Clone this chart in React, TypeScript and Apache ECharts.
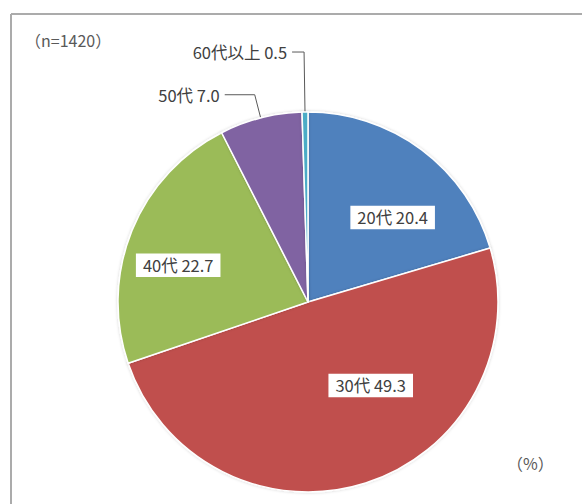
import React, { useEffect, useRef } from 'react';
import * as echarts from 'echarts';

// Age-group breakdown of respondents (%)
const categories = ['20代', '30代', '40代', '50代', '60代以上'];
const shares = [20.4, 49.3, 22.7, 7.0, 0.5];
const sliceColors = ['#4F81BD', '#C0504D', '#9BBB59', '#8064A2', '#4BACC6'];
const sampleNote = '（n=1420）';
const unitNote = '（%）';

// Which slices carry their label inside the wedge, and how far each inside label is nudged
const insideLabel = [true, true, true, false, false];
const insideLabelShift = [
  [26, -6],
  [33, -10],
  [-39, 0],
];
// Leader line lengths for the outside labels [radial, horizontal]
const leaderLengths: Record<number, [number, number]> = {
  3: [24, 30],
  4: [60, 12],
};

const FONT = '"Noto Sans CJK JP", "Noto Sans", sans-serif';
const TEXT = '#404040';
const LABEL_SIZE = 16.5;

export default function App() {
  const ref = useRef<HTMLDivElement>(null);

  useEffect(() => {
    if (!ref.current) return;
    const chart = echarts.init(ref.current, undefined, { renderer: 'svg' });

    const data = categories.map((name, i) => {
      const item: any = {
        name,
        value: shares[i],
        itemStyle: { color: sliceColors[i] },
      };
      if (!insideLabel[i]) {
        const [l1, l2] = leaderLengths[i];
        item.label = {
          position: 'outside',
          backgroundColor: 'transparent',
          padding: 0,
          distanceToLabelLine: 5,
        };
        item.labelLine = {
          show: true,
          length: l1,
          length2: l2,
          smooth: false,
          lineStyle: { color: '#595959', width: 1 },
        };
      }
      return item;
    });

    chart.setOption({
      animation: false,
      textStyle: { fontFamily: FONT },
      graphic: [
        {
          type: 'line',
          shape: { x1: 11, y1: 14, x2: 582, y2: 14 },
          style: { stroke: '#ABABAB', lineWidth: 2 },
        },
        {
          type: 'line',
          shape: { x1: 11, y1: 14, x2: 11, y2: 504 },
          style: { stroke: '#ABABAB', lineWidth: 2 },
        },
        {
          type: 'text',
          left: 25,
          top: 32,
          style: { text: sampleNote, fontSize: 16, fill: '#595959', fontFamily: FONT },
        },
        {
          type: 'text',
          left: 507,
          top: 455,
          style: { text: unitNote, fontSize: 16, fill: '#595959', fontFamily: FONT },
        },
      ],
      series: [
        {
          type: 'pie',
          center: [308, 302],
          radius: 190,
          startAngle: 90,
          clockwise: true,
          avoidLabelOverlap: false,
          itemStyle: {
            borderColor: '#ffffff',
            borderWidth: 1.5,
            shadowBlur: 3,
            shadowColor: 'rgba(0,0,0,0.18)',
          },
          label: {
            show: true,
            position: 'inside',
            formatter: (p: any) => `${p.name} ${Number(p.value).toFixed(1)}`,
            color: TEXT,
            fontSize: LABEL_SIZE,
            fontFamily: FONT,
            backgroundColor: '#ffffff',
            padding: [4, 7, 3, 7],
          },
          labelLine: { show: false },
          labelLayout: (p: any) => {
            const s = insideLabelShift[p.dataIndex];
            return s ? { dx: s[0], dy: s[1] } : {};
          },
          emphasis: { disabled: true },
          data,
        },
      ],
    });

    return () => chart.dispose();
  }, []);

  return (
    <div
      ref={ref}
      style={{ position: 'fixed', left: 0, top: 0, width: 582, height: 504, background: '#fff' }}
    />
  );
}
